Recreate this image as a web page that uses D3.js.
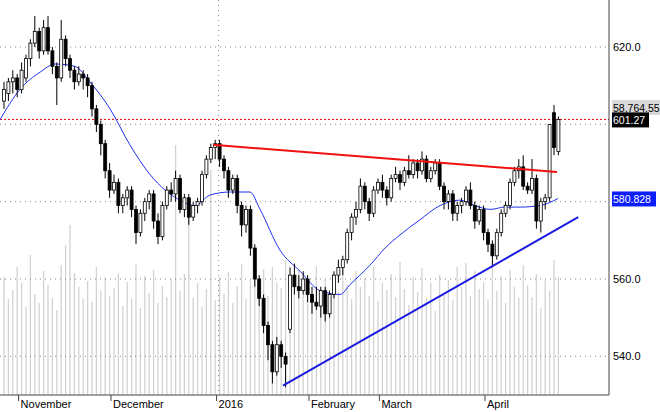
<!DOCTYPE html>
<html>
<head>
<meta charset="utf-8">
<script src="https://cdn.jsdelivr.net/npm/d3@7"></script>
<style>
  body { margin: 0; background: #fff; }
  text { font-family: "Liberation Sans", Arial, sans-serif; font-size: 11px; }
</style>
</head>
<body>
<svg id="chart" width="660" height="412"></svg>
<script>
"use strict";

// daily candles [open, high, low, close], grouped by month
var oct = [[606,611,604,609],[608,612,606,611],[611,614,608,612],[612,613,607,609]];
var nov = [[609,616,608,614],[612,618,611,617],[617,622,615,621],[621,628,620,624],[624,625,617,619],
           [619,627,618,625],[625,628,618,619],[619,620,613,615],[615,616,605,612],[612,627,611,622],
           [622,623,615,617],[617,618,612,614],[614,615,609,611],[611,615,610,613],[613,614,609,612],
           [612,613,607,610],[610,611,602,604],[604,605,598,600],[600,601,592,595],[595,596,586,588],
           [588,590,581,583]];
var dec = [[583,587,582,585],[585,586,577,579],[579,582,577,581],[581,584,579,583],[583,584,576,578],
           [578,579,569,572],[572,578,571,577],[577,581,575,580],[580,583,578,582],[582,583,573,575],
           [575,577,569,571],[571,580,570,579],[579,584,578,583],[583,585,580,582],[582,588,580,586],
           [586,587,577,578],[578,582,576,581],[581,582,574,576],[576,580,575,579],[579,581,577,580],
           [580,588,579,587],[587,592,586,591],[591,595,590,594],[594,596,591,595]];
var jan = [[595,596,589,591],[591,592,586,588],[588,589,581,583],[583,587,582,586],[586,587,577,579],
           [579,580,571,574],[574,579,572,578],[578,579,566,568],[568,569,558,560],[560,561,553,555],
           [555,556,546,548],[548,549,539,543],[543,544,533,536],[536,545,535,543],[543,544,537,540],
           [540,541,532,538],[547,563,546,561],[561,564,556,558],[558,561,555,557],[557,562,556,560]];
var feb = [[560,561,554,556],[556,558,551,554],[554,558,552,553],[553,558,550,557],[557,558,549,551],
           [551,557,550,556],[556,562,555,561],[561,565,559,563],[563,566,561,565],[565,573,564,572],
           [572,577,570,576],[576,580,574,578],[578,586,577,584],[584,585,578,580],[580,581,575,577],
           [577,584,576,583]];
var mar = [[583,586,582,585],[585,587,581,583],[583,584,579,581],[581,587,580,586],[586,589,585,587],
           [587,588,583,585],[585,589,584,588],[588,592,586,587],[587,591,586,590],[590,591,586,588],
           [588,593,587,591],[591,592,585,586],[586,589,585,588],[588,591,587,590],[590,591,583,584],
           [584,585,578,580],[580,583,578,582],[582,583,575,577],[577,580,575,579],[579,581,577,580],
           [580,584,579,583],[583,585,578,579],[579,580,573,575],[575,579,574,578]];
var apr = [[578,579,570,572],[572,573,567,569],[569,570,563,566],[566,573,565,572],[572,578,571,577],
           [577,580,576,579],[579,586,578,585],[585,589,584,588],[588,591,586,589],[589,592,583,584],
           [584,585,582,583],[583,591,582,586],[586,587,573,575],[575,581,572,580],[580,582,578,581],
           [581,600,580,600],[603,605,592,594],[593,602,592,601.27]];
var candles = oct.concat(nov, dec, jan, feb, mar, apr);

// volume per day (relative)
var volume = [118,96,105,128,112,88,140,101,92,124,110,97,85,130,150,170,122,108,96,114,
              93,128,104,118,99,107,122,89,113,96,131,87,119,102,125,92,109,98,116,250,
              104,121,190,97,112,88,106,225,95,118,101,123,92,109,131,96,115,140,104,126,
              99,128,112,107,135,98,118,125,101,110,94,129,106,115,97,122,103,131,110,96,
              124,108,117,99,128,94,112,105,121,98,133,106,90,118,103,127,97,112,84,120,
              102,115,95,128,108,132,99,124,106,113,96,127,104,119,92,125,108,97,130,110,
              98,121,87,115,104,135,118];

// 20-day moving average as [day index, value]
var sma = [[-1,601],[3.6,609],[8.2,613.5],[11.6,615.6],[16.1,615],[19.5,611],[24.1,604],
           [28.6,594.7],[33.2,587],[36.6,583],[40,580.4],[43.4,579],[46.8,581.7],[51.4,582.5],
           [55.9,582.5],[58.2,578],[62.7,567.5],[67.3,562],[71.8,557],[76.4,556],[78.6,558.5],
           [83.2,563.6],[86.6,568],[90,571.4],[94.5,575.3],[99.1,579],[103.6,580.4],[107,579],
           [110.5,578],[113.9,578.6],[117.3,578.6],[121.8,579],[125.9,580.8]];

var resistance = [[47.5,594.7],[125.7,587.7]];
var support = [[63.4,532.4],[130.5,576]];
var lastClose = 601.27, smaLast = 580.828, volLabel = "58,764.55";
var months = [[4,"November"],[25,"December"],[49,"2016"],[70,"February"],[86,"March"],[110,"April"]];
var yTicks = [540, 560, 580, 600, 620];
var yLabels = [540, 560, 620];

var svg = d3.select("#chart");
var plotR = 609, plotB = 395;

var x = d3.scaleLinear().domain([0, 1]).range([4, 8.4]);
var y = d3.scaleLinear().domain([560, 620]).range([279, 47]);
var v = d3.scaleLinear().domain([0, 260]).range([plotB, 135]);

// volume bars
svg.append("g").selectAll("line").data(volume).enter().append("line")
  .attr("x1", function(d, i) { return x(i); }).attr("x2", function(d, i) { return x(i); })
  .attr("y1", plotB).attr("y2", function(d) { return v(d); })
  .attr("stroke", "#d2d2d2").attr("stroke-width", 1.3);

// grid
svg.append("g").selectAll("line").data(yTicks).enter().append("line")
  .attr("x1", 0).attr("x2", plotR).attr("y1", function(d) { return y(d); }).attr("y2", function(d) { return y(d); })
  .attr("stroke", "#888").attr("stroke-dasharray", "1,4");
svg.append("line").attr("x1", x(49) - 1).attr("x2", x(49) - 1).attr("y1", 0).attr("y2", plotB)
  .attr("stroke", "#888").attr("stroke-dasharray", "1,4");

// last-close dotted line
svg.append("line").attr("x1", 0).attr("x2", plotR).attr("y1", y(lastClose)).attr("y2", y(lastClose))
  .attr("stroke", "#e00").attr("stroke-dasharray", "2,2");

// moving average
svg.append("path").datum(sma)
  .attr("d", d3.line().x(function(d) { return x(d[0]); }).y(function(d) { return y(d[1]); }).curve(d3.curveMonotoneX))
  .attr("fill", "none").attr("stroke", "#2233ee").attr("stroke-width", 1);

// candles
var cg = svg.append("g").selectAll("g").data(candles).enter().append("g");
cg.append("line")
  .attr("x1", function(d, i) { return x(i); }).attr("x2", function(d, i) { return x(i); })
  .attr("y1", function(d) { return y(d[1]); }).attr("y2", function(d) { return y(d[2]); })
  .attr("stroke", "#000");
cg.append("rect")
  .attr("x", function(d, i) { return x(i) - 1.5; }).attr("width", 3)
  .attr("y", function(d) { return y(Math.max(d[0], d[3])); })
  .attr("height", function(d) { return Math.max(1, Math.abs(y(d[0]) - y(d[3]))); })
  .attr("fill", function(d) { return d[3] >= d[0] ? "#fff" : "#000"; })
  .attr("stroke", "#000").attr("stroke-width", 0.8);

// trend lines
var tl = d3.line().x(function(d) { return x(d[0]); }).y(function(d) { return y(d[1]); });
svg.append("path").datum(resistance).attr("d", tl).attr("stroke", "#f01010").attr("stroke-width", 2).attr("fill", "none");
svg.append("path").datum(support).attr("d", tl).attr("stroke", "#1a1ae0").attr("stroke-width", 2).attr("fill", "none");

// axes frame
svg.append("line").attr("x1", plotR).attr("x2", plotR).attr("y1", 0).attr("y2", plotB).attr("stroke", "#444");
svg.append("line").attr("x1", 0).attr("x2", plotR).attr("y1", plotB).attr("y2", plotB).attr("stroke", "#444");

// right axis labels
svg.append("g").selectAll("text").data(yLabels).enter().append("text")
  .attr("x", plotR + 4).attr("y", function(d) { return y(d) + 4; })
  .text(function(d) { return d.toFixed(1); });

function tag(label, bg, fg, yy, w) {
  var g = svg.append("g");
  g.append("rect").attr("x", plotR + 3).attr("y", yy - 7).attr("width", w).attr("height", 15).attr("fill", bg);
  g.append("text").attr("x", plotR + 4).attr("y", yy + 4.5).attr("fill", fg)
    .style("font-size", "10.5px").text(label);
}
tag(volLabel, "#d9d9d9", "#000", 107, 51);
tag(lastClose.toFixed(2), "#000", "#fff", y(lastClose), 37);
tag(smaLast.toFixed(3), "#0a1eff", "#fff", y(smaLast), 44);

// month axis
var mg = svg.append("g").selectAll("g").data(months).enter().append("g");
mg.append("line").attr("x1", function(d) { return x(d[0]) - 3; }).attr("x2", function(d) { return x(d[0]) - 3; })
  .attr("y1", plotB).attr("y2", plotB + 6).attr("stroke", "#444");
mg.append("text").attr("x", function(d) { return x(d[0]) - 1; }).attr("y", plotB + 13).text(function(d) { return d[1]; });
</script>
</body>
</html>
